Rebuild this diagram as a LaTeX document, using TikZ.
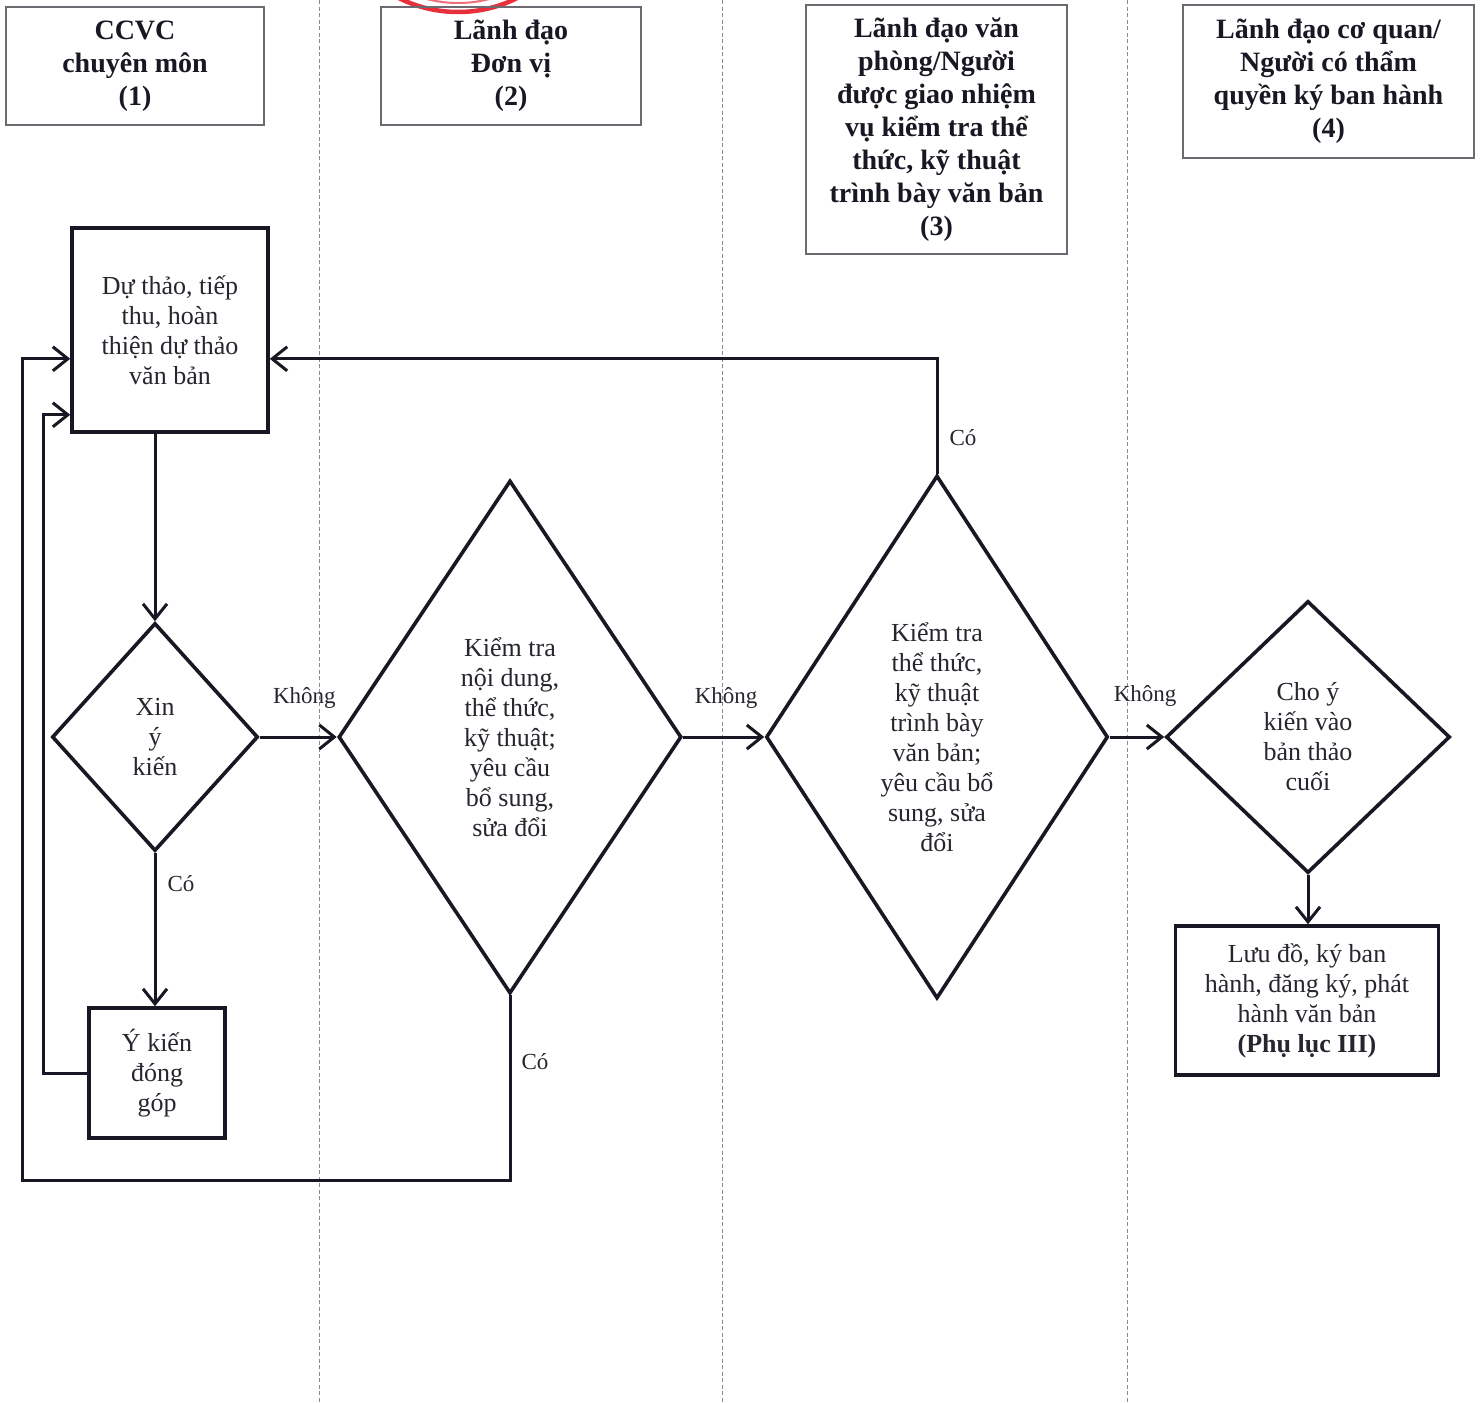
\documentclass[tikz,border=0pt]{standalone}
\usepackage{fontspec}
\setmainfont{Liberation Serif}
\usetikzlibrary{shapes.geometric,arrows.meta,calc}
\definecolor{ink}{HTML}{181824}
\definecolor{txt}{HTML}{26262F}
\definecolor{hdrline}{HTML}{6A6A70}
\definecolor{laneline}{HTML}{8A8A90}
\definecolor{stamp}{HTML}{E8303C}
\tikzset{
  hdr/.style={draw=hdrline, line width=1.3pt, align=center, text=ink, inner sep=0pt,
    font=\fontsize{28}{33}\selectfont\bfseries},
  procbox/.style={draw=ink, line width=3.6pt, align=center, text=txt, inner sep=0pt,
    font=\fontsize{26}{30}\selectfont},
  decis/.style={shape=diamond, draw=ink, line width=3.6pt, align=center, text=txt, inner sep=0pt,
    font=\fontsize{26}{30}\selectfont},
  lbl/.style={text=txt, inner sep=0pt, font=\fontsize{23}{27}\selectfont},
  arr/.style={draw=ink, line width=3pt, -{Straight Barb[length=15pt,width=24pt]}},
  lane/.style={draw=laneline, line width=1pt, dash pattern=on 4pt off 2.5pt},
}
\begin{document}
\begin{tikzpicture}[x=1pt,y=-1pt]
\useasboundingbox[fill=white] (0,0) rectangle (1482,1403);
% stamp fragment
\begin{scope}
\clip (0,0) rectangle (1482,1403);
\draw[stamp, line width=4.5pt] (458,-120) circle (132);
\draw[stamp!70, line width=2pt] (458,-120) circle (123);
\end{scope}
% lanes
\draw[lane] (319,0) -- (319,1403);
\draw[lane] (722,0) -- (722,1403);
\draw[lane] (1127,0) -- (1127,1403);
% headers
\node[hdr, minimum width=258, minimum height=118] (h1) at (135,66) {CCVC\\chuyên môn\\(1)};
\node[hdr, minimum width=260, minimum height=118] (h2) at (511,66) {Lãnh đạo\\Đơn vị\\(2)};
\node[hdr, minimum width=261, minimum height=249] (h3) at (936.5,129.5) {Lãnh đạo văn\\phòng/Người\\được giao nhiệm\\vụ kiểm tra thể\\thức, kỹ thuật\\trình bày văn bản\\(3)};
\node[hdr, minimum width=291, minimum height=153] (h4) at (1328.5,81.5) {Lãnh đạo cơ quan/\\Người có thẩm\\quyền ký ban hành\\(4)};
% process nodes
\node[procbox, minimum width=196, minimum height=204] (draft) at (170,330) {Dự thảo, tiếp\\thu, hoàn\\thiện dự thảo\\văn bản};
\node[decis, minimum width=206, minimum height=228, aspect=0.6] (xin) at (155,737) {Xin\\ý\\kiến};
\node[procbox, minimum width=136, minimum height=130] (yk) at (157,1073) {Ý kiến\\đóng\\góp};
\node[decis, minimum width=343, minimum height=513, aspect=0.6] (d2) at (510,737) {Kiểm tra\\nội dung,\\thể thức,\\kỹ thuật;\\yêu cầu\\bổ sung,\\sửa đổi};
\node[decis, minimum width=342, minimum height=523, aspect=0.5] (d3) at (937,737) {Kiểm tra\\thể thức,\\kỹ thuật\\trình bày\\văn bản;\\yêu cầu bổ\\sung, sửa\\đổi};
\node[decis, minimum width=284, minimum height=272, aspect=1] (d4) at (1308,737) {Cho ý\\kiến vào\\bản thảo\\cuối};
\node[procbox, minimum width=263, minimum height=149] (fin) at (1307,1000.5) {Lưu đồ, ký ban\\hành, đăng ký, phát\\hành văn bản\\\textbf{(Phụ lục III)}};
% helper coordinates
\coordinate (in1) at ([yshift=19pt]draft.south west);
\coordinate (in2) at ([yshift=75pt]draft.south west);
\coordinate (in3) at ([yshift=75pt]draft.south east);
\coordinate (lb) at (22,1180);
% connectors
\draw[arr] (xin.north |- draft.south) -- (xin.north);
\draw[arr] (xin.east) -- node[lbl, pos=0.58, above=27pt] (l1) {Không} (d2.west);
\draw[arr] (xin.south) -- node[lbl, pos=0.2, right=11pt] (l2) {Có} (xin.south |- yk.north);
\draw[arr] (yk.west) -- ++(-44,0) |- (in1);
\draw[arr] (d2.south) -- node[lbl, pos=0.36, right=10pt] (l3) {Có} (d2.south |- lb) -- (lb) -- (lb |- in2) -- (in2);
\draw[arr] (d2.east) -- node[lbl, pos=0.53, above=27pt] (l4) {Không} (d3.west);
\draw[arr] (d3.north) -- node[lbl, pos=0.31, right=11pt] (l5) {Có} (d3.north |- in3) -- (in3);
\draw[arr] (d3.east) -- node[lbl, pos=0.65, above=29pt] (l6) {Không} (d4.west);
\draw[arr] (d4.south) -- (d4.south |- fin.north);
\end{tikzpicture}
\end{document}
